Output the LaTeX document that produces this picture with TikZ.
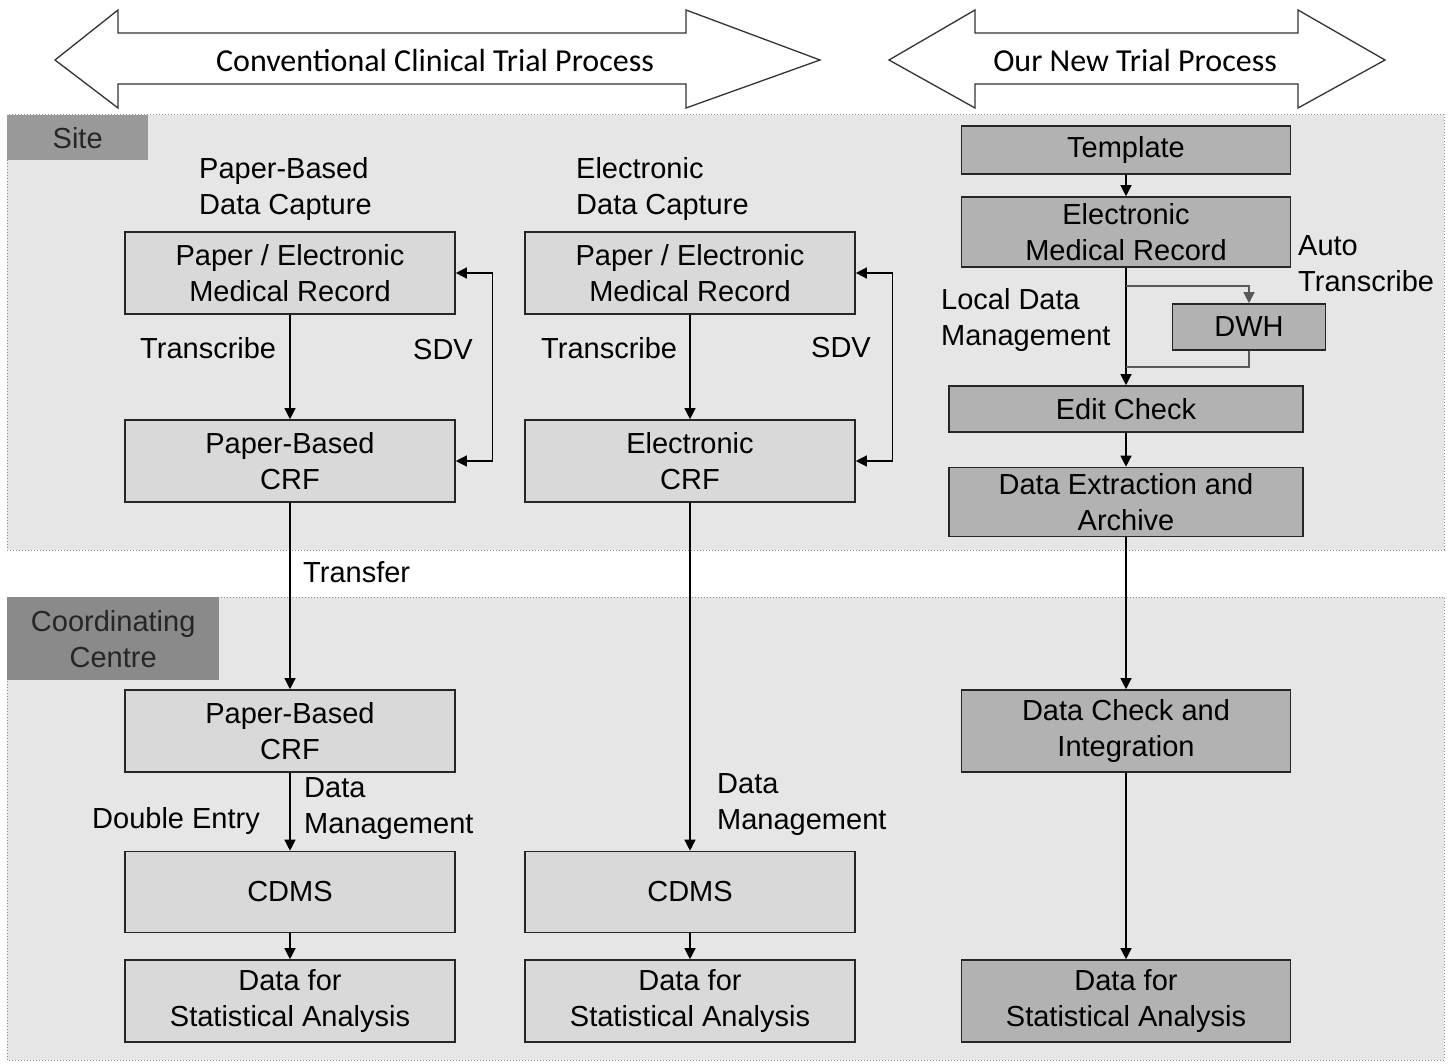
\documentclass[tikz,border=0pt]{standalone}
\usepackage{fontspec}
\setmainfont{Liberation Sans}
\newfontfamily\hdr{Carlito}
\usetikzlibrary{arrows.meta}
\definecolor{regbg}{HTML}{E6E6E6}
\definecolor{lbox}{HTML}{D9D9D9}
\definecolor{dbox}{HTML}{B2B2B2}
\definecolor{tagbg}{HTML}{999999}
\definecolor{tagbgd}{HTML}{8A8A8A}
\begin{document}
\begin{tikzpicture}[x=1pt,y=-1pt,
  every node/.style={font=\fontsize{29}{36}\selectfont, inner sep=0pt},
  lightbox/.style={draw=black!85, line width=1.6pt, fill=lbox, minimum width=330pt, align=center},
  darkbox/.style={draw=black!85, line width=1.6pt, fill=dbox, align=center},
  region/.style={fill=regbg, draw=black!45, dotted, line width=1pt},
  tag/.style={fill=tagbg, text=black!85, align=center},
  lbl/.style={align=left, anchor=west},
  conn/.style={line width=1.3pt, -{Triangle[length=11pt,width=11pt]}},
  plain/.style={line width=1.3pt},
  bigarrow/.style={draw=black!80, line width=1.3pt, fill=white},
  hdrtext/.style={font=\hdr\fontsize{32}{38}\selectfont},
]
\useasboundingbox (0,0) rectangle (1452,1064);
% regions
\draw[region] (7,115) rectangle (1444,550);
\draw[region] (7,597) rectangle (1444,1060);
\node[tag, minimum width=141pt, minimum height=45pt, anchor=north west] (site) at (7,115) {Site};
\node[tag, fill=tagbgd, minimum width=212pt, minimum height=83pt, anchor=north west] (cc) at (7,597) {Coordinating\\Centre};

% big double arrows
\draw[bigarrow] (55,60) -- (118,10) -- (118,33) -- (686,33) -- (686,10) -- (820,60) -- (686,108) -- (686,84) -- (118,84) -- (118,108) -- cycle;
\node[hdrtext] (h1) at (435,61) {Conventional Clinical Trial Process};
\draw[bigarrow] (889,60) -- (975,10) -- (975,33) -- (1298,33) -- (1298,10) -- (1385,60) -- (1298,108) -- (1298,84) -- (975,84) -- (975,108) -- cycle;
\node[hdrtext] (h2) at (1135,61) {Our New Trial Process};

% left column
\node[lbl] (pdc) at (199,189) {Paper-Based\\Data Capture};
\node[lightbox, minimum height=82pt] (mr1) at (290,273) {Paper / Electronic\\Medical Record};
\node[lightbox, minimum height=82pt] (crf1) at (290,461) {Paper-Based\\CRF};
\node[lbl] (tr1) at (140,348) {Transcribe};
\node (sdv1) at (443,350) {SDV};
\node[lbl] (tf) at (303,572) {Transfer};
\node[lightbox, minimum height=82pt] (crf2) at (290,731) {Paper-Based\\CRF};
\node[lbl] (de) at (92,821) {Double Entry};
\node[lbl] (dm1) at (304,809) {Data\\Management};
\node[lightbox, minimum height=81pt] (cdms1) at (290,892) {CDMS};
\node[lightbox, minimum height=82pt] (dsa1) at (290,1001) {Data for\\Statistical Analysis};

% middle column
\node[lbl] (edc) at (576,189) {Electronic\\Data Capture};
\node[lightbox, minimum height=82pt] (mr2) at (690,273) {Paper / Electronic\\Medical Record};
\node[lightbox, minimum height=82pt] (ecrf) at (690,461) {Electronic\\CRF};
\node[lbl] (tr2) at (541,348) {Transcribe};
\node (sdv2) at (841,348) {SDV};
\node[lbl] (dm2) at (717,805) {Data\\Management};
\node[lightbox, minimum height=81pt] (cdms2) at (690,892) {CDMS};
\node[lightbox, minimum height=82pt] (dsa2) at (690,1001) {Data for\\Statistical Analysis};

% right column
\node[darkbox, minimum width=329pt, minimum height=48pt] (tpl) at (1126,150) {Template};
\node[darkbox, minimum width=329pt, minimum height=70pt] (emr) at (1126,232) {Electronic\\Medical Record};
\node[lbl] (at) at (1298,264) {Auto\\Transcribe};
\node[lbl] (ldm) at (941,320) {Local Data\\Management};
\node[darkbox, minimum width=153pt, minimum height=46pt] (dwh) at (1249,327) {DWH};
\node[darkbox, minimum width=354pt, minimum height=46pt] (ec) at (1126,409) {Edit Check};
\node[darkbox, minimum width=354pt, minimum height=69pt] (dea) at (1126,502) {Data Extraction and\\Archive};
\node[darkbox, minimum width=329pt, minimum height=82pt] (dci) at (1126,731) {Data Check and\\Integration};
\node[darkbox, minimum width=329pt, minimum height=82pt] (dsa3) at (1126,1001) {Data for\\Statistical Analysis};

% connectors left
\draw[conn] (mr1) -- (crf1);
\draw[plain, {Triangle[length=11pt,width=11pt]}-{Triangle[length=11pt,width=11pt]}] (crf1.east) -- ++(37,0) |- (mr1.east);
\draw[conn] (crf1) -- (crf2);
\draw[conn] (crf2) -- (cdms1);
\draw[conn] (cdms1) -- (dsa1);
% connectors middle
\draw[conn] (mr2) -- (ecrf);
\draw[plain, {Triangle[length=11pt,width=11pt]}-{Triangle[length=11pt,width=11pt]}] (ecrf.east) -- ++(37,0) |- (mr2.east);
\draw[conn] (ecrf) -- (cdms2);
\draw[conn] (cdms2) -- (dsa2);
% connectors right
\coordinate (br) at (1126,286);
\coordinate (mg) at (1126,367);
\draw[conn] (tpl) -- (emr);
\draw[conn] (emr) -- (ec);
\draw[conn, draw=black!65] (br) -| (dwh.north);
\draw[plain, draw=black!65] (dwh.south) |- (mg);
\draw[conn] (ec) -- (dea);
\draw[conn] (dea) -- (dci);
\draw[conn] (dci) -- (dsa3);
\end{tikzpicture}
\end{document}
